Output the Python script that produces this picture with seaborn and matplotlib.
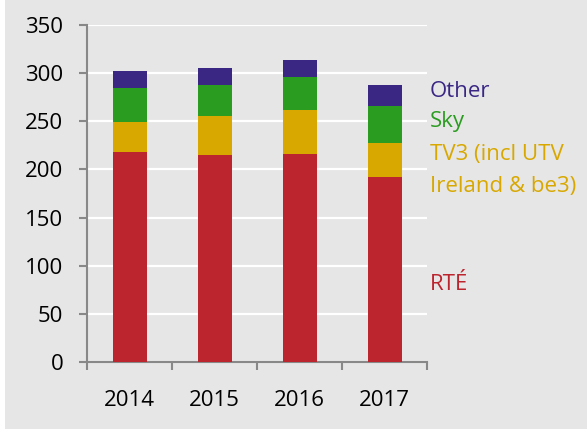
import matplotlib
matplotlib.use("Agg")
import matplotlib.pyplot as plt
import seaborn as sns
import pandas as pd
import numpy as np
from matplotlib.patches import Rectangle

years = ["2014", "2015", "2016", "2017"]
rte = [218.5, 215, 216.5, 192]
tv3 = [30.5, 41, 45.5, 35]
sky = [36, 32, 34, 38.5]
other = [17.5, 17, 17.5, 22.5]

cols = ["RTÉ", "TV3", "Sky", "Other"]
colors = ["#BC242E", "#D8A800", "#2A9C20", "#3A2784"]

# label lines on the right (text, colour index, baseline in data units)
label_lines = [("Other", 3, 275.7), ("Sky", 2, 244.5), ("TV3 (incl UTV", 1, 210),
               ("Ireland & be3)", 1, 177), ("RTÉ", 0, 75)]

bg = "#E6E6E6"
sns.set_theme(style="white")
plt.rcParams["font.family"] = ["Open Sans", "DejaVu Sans"]

df = pd.DataFrame({"year": years, "RTÉ": rte, "TV3": tv3, "Sky": sky, "Other": other})
cum = df[cols].cumsum(axis=1)

fig = plt.figure(figsize=(5.87, 4.29), dpi=100, facecolor=bg)
fig.patches.append(Rectangle((0, 0), 5 / 587, 1, transform=fig.transFigure,
                             facecolor="white", edgecolor="none", zorder=0))
ax = fig.add_axes([87 / 587, 1 - 362 / 429, 340 / 587, 337 / 429])
ax.set_facecolor(bg)

# draw tallest first so lower segments sit on top
for col, color in reversed(list(zip(cols, colors))):
    sns.barplot(x=df["year"], y=cum[col], color=color, width=0.4,
                saturation=1, ax=ax, zorder=3, edgecolor="none")

ax.set_ylim(0, 350)
ax.set_xlim(-0.5, 3.5)
ax.set_yticks(np.arange(0, 351, 50))
ax.yaxis.grid(True, color="white", linewidth=1.6, zorder=1)
ax.set_xlabel("")
ax.set_ylabel("")

for s in ["top", "right"]:
    ax.spines[s].set_visible(False)
for s in ["left", "bottom"]:
    ax.spines[s].set_color("#888888")
    ax.spines[s].set_linewidth(1.5)

ax.tick_params(axis="y", which="major", length=6, width=1.5, color="#888888",
               labelsize=16, labelcolor="black", pad=11, left=True)
ax.tick_params(axis="x", which="major", length=0, labelsize=16,
               labelcolor="black", pad=20)
ax.set_xticks(np.arange(-0.5, 3.6, 1), minor=True)
ax.tick_params(axis="x", which="minor", length=6, width=1.5, color="#888888",
               bottom=True)

for text, ci, yv in label_lines:
    ax.text(3.535, yv, text, color=colors[ci], fontsize=16, va="baseline",
            ha="left", clip_on=False)

fig.savefig("out.png", dpi=100, facecolor=bg)
